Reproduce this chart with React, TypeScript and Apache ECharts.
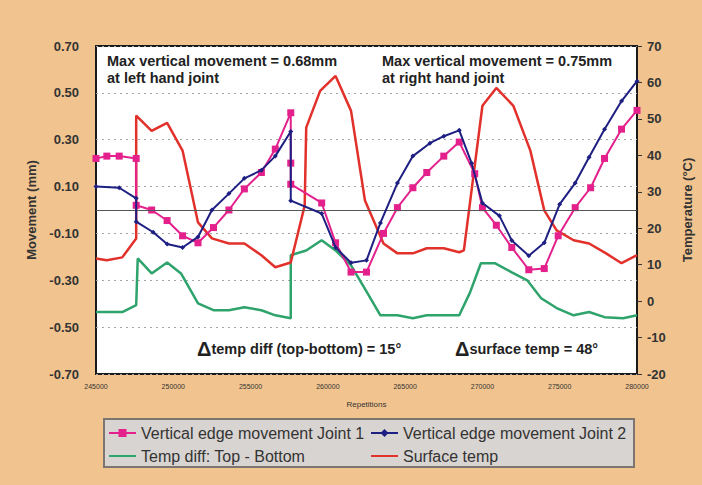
import React, { useEffect, useRef } from "react";
import * as echarts from "echarts";

const xMin = 245000;
const xMax = 280000;

const joint1X = [245000, 245700, 246500, 247600, 247600, 248600, 249600, 250600, 251600, 252600, 253600, 254600, 255700, 256600, 257600, 257600, 257600, 259600, 260500, 261500, 262500, 263600, 264500, 265500, 266400, 267500, 268500, 269500, 270000, 270900, 271900, 273000, 274000, 274900, 276000, 277000, 277900, 279000, 280000];
const joint1Y = [0.22, 0.23, 0.23, 0.22, 0.02, 0.0, -0.045, -0.11, -0.14, -0.075, 0.0, 0.09, 0.16, 0.26, 0.415, 0.2, 0.11, 0.03, -0.14, -0.265, -0.265, -0.1, 0.01, 0.095, 0.16, 0.23, 0.29, 0.155, 0.01, -0.065, -0.16, -0.255, -0.25, -0.11, 0.01, 0.095, 0.22, 0.345, 0.425];

const joint2X = [245000, 246500, 247600, 247600, 248700, 249600, 250600, 251600, 252500, 253600, 254600, 255700, 256600, 257600, 257600, 259600, 260500, 261500, 262500, 263400, 264500, 265500, 266600, 267500, 268500, 269300, 270000, 271100, 271900, 273000, 274000, 275000, 276000, 276900, 277900, 279000, 280000];
const joint2Y = [0.1, 0.095, 0.05, -0.05, -0.095, -0.145, -0.16, -0.115, 0.0, 0.07, 0.135, 0.17, 0.23, 0.335, 0.04, -0.015, -0.16, -0.225, -0.215, -0.055, 0.115, 0.23, 0.285, 0.315, 0.34, 0.2, 0.03, -0.025, -0.13, -0.195, -0.14, 0.025, 0.115, 0.225, 0.345, 0.465, 0.55];

const tempDiffX = [245000, 246700, 247600, 247700, 248600, 249600, 250500, 251600, 252600, 253600, 254600, 255700, 256600, 257600, 257600, 258600, 259600, 260500, 261500, 262600, 263400, 264500, 265500, 266400, 268500, 269200, 269900, 270800, 271900, 272900, 273800, 274800, 275900, 276900, 277900, 279100, 280000];
const tempDiffY = [-3.0, -3.0, -1.1, 11.7, 7.6, 10.6, 7.6, -0.6, -2.5, -2.5, -1.7, -2.5, -3.9, -4.7, 12.6, 13.9, 16.7, 13.9, 9.8, 1.9, -3.9, -3.9, -4.7, -3.9, -3.9, 2.4, 10.4, 10.4, 7.9, 5.7, 0.8, -1.9, -3.9, -3.0, -4.4, -4.7, -3.9];

const surfX = [245000, 245700, 246700, 247600, 247600, 248600, 249600, 250600, 251600, 252500, 253600, 254600, 255700, 256600, 257600, 258500, 258600, 259500, 260500, 261500, 262400, 263600, 264500, 265500, 266400, 267500, 268500, 268800, 270000, 270900, 272000, 273100, 274000, 274800, 275900, 276900, 278000, 279000, 280000];
const surfY = [11.7, 11.2, 12.0, 17.2, 50.9, 46.7, 48.9, 41.3, 21.6, 17.2, 15.8, 15.8, 12.6, 9.3, 10.6, 26.2, 47.6, 57.7, 61.8, 52.2, 27.6, 15.8, 13.1, 13.1, 14.5, 14.5, 13.4, 13.9, 53.6, 58.5, 53.6, 41.3, 24.9, 19.4, 16.7, 15.8, 13.1, 10.4, 12.6];

const seriesNames = [
  "Vertical edge movement Joint 1",
  "Vertical edge movement Joint 2",
  "Temp diff: Top - Bottom",
  "Surface temp",
];

const annotationLeft = ["Max vertical movement = 0.68mm", "at left hand joint"];
const annotationRight = ["Max vertical movement = 0.75mm", "at right hand joint"];
const deltaTempDiff = "temp diff (top-bottom) = 15°";
const deltaSurface = "surface temp = 48°";

const pair = (xs: number[], ys: number[]) => xs.map((x, i) => [x, ys[i]]);

const FONT = 'Arial, "Liberation Sans", sans-serif';

export default function App() {
  const ref = useRef<HTMLDivElement>(null);
  useEffect(() => {
    if (!ref.current) return;
    const chart = echarts.init(ref.current, undefined, { renderer: "svg" });
    const boldText = { fontFamily: FONT, fontWeight: "bold" as const, fontSize: 14.5, fill: "#222" };
    const deltaRich = {
      d: { fontFamily: FONT, fontSize: 20, fontWeight: "bold", fill: "#222", color: "#222" },
      t: { fontFamily: FONT, fontSize: 14.5, fontWeight: "bold", fill: "#222", color: "#222" },
    };
    chart.setOption({
      animation: false,
      backgroundColor: "#F1C38E",
      textStyle: { fontFamily: FONT },
      grid: {
        left: 96,
        right: 61,
        top: 46,
        bottom: 111,
        show: true,
        backgroundColor: "#ffffff",
        borderColor: "#1a1a1a",
        borderWidth: 2,
      },
      legend: {
        left: 108,
        top: 424,
        width: 540,
        padding: 0,
        itemWidth: 27,
        itemHeight: 10,
        itemGap: 5,
        data: [
          { name: seriesNames[0] },
          { name: seriesNames[1] },
          { name: seriesNames[2], itemStyle: { opacity: 0 } },
          { name: seriesNames[3], itemStyle: { opacity: 0 } },
        ],
        textStyle: { fontFamily: FONT, fontSize: 16, color: "#333", width: 224, lineHeight: 18 },
      },
      xAxis: {
        type: "value",
        min: xMin,
        max: xMax,
        interval: 5000,
        name: "Repetitions",
        nameLocation: "middle",
        nameGap: 26,
        nameTextStyle: { fontFamily: FONT, fontSize: 8, color: "#333" },
        axisLine: { show: false },
        axisTick: { show: false },
        splitLine: { show: false },
        axisLabel: { fontFamily: FONT, fontSize: 7, color: "#333", margin: 9, formatter: (v: number) => String(v) },
      },
      yAxis: [
        {
          type: "value",
          min: -0.7,
          max: 0.7,
          interval: 0.2,
          name: "Movement (mm)",
          nameLocation: "middle",
          nameRotate: 90,
          nameGap: 58,
          nameTextStyle: { fontFamily: FONT, fontSize: 13, fontWeight: "bold", color: "#333" },
          axisLine: { show: false },
          axisTick: { show: false },
          axisLabel: {
            fontFamily: FONT,
            fontSize: 13,
            fontWeight: "bold",
            color: "#333",
            margin: 17,
            formatter: (v: number) => v.toFixed(2),
          },
          splitLine: { show: true, lineStyle: { color: "#a5a5a5", type: [2, 4], width: 1 } },
        },
        {
          type: "value",
          min: -20,
          max: 70,
          interval: 10,
          name: "Temperature (°C)",
          nameLocation: "middle",
          nameRotate: 90,
          nameGap: 44,
          nameTextStyle: { fontFamily: FONT, fontSize: 13, fontWeight: "bold", color: "#333" },
          axisLine: { show: false },
          axisTick: { show: true, inside: false, length: 5, lineStyle: { color: "#333" } },
          axisLabel: { fontFamily: FONT, fontSize: 13, fontWeight: "bold", color: "#333", margin: 10 },
          splitLine: { show: false },
        },
      ],
      series: [
        {
          name: seriesNames[0],
          type: "line",
          yAxisIndex: 0,
          data: pair(joint1X, joint1Y),
          symbol: "rect",
          symbolSize: 7,
          lineStyle: { color: "#E3208C", width: 2 },
          itemStyle: { color: "#E3208C" },
          z: 4,
          markLine: {
            silent: true,
            symbol: "none",
            label: { show: false },
            lineStyle: { color: "#555", type: "solid", width: 1 },
            data: [{ yAxis: 0 }],
          },
        },
        {
          name: seriesNames[1],
          type: "line",
          yAxisIndex: 0,
          data: pair(joint2X, joint2Y),
          symbol: "diamond",
          symbolSize: 5,
          lineStyle: { color: "#1E1F82", width: 2 },
          itemStyle: { color: "#1E1F82" },
          z: 5,
        },
        {
          name: seriesNames[2],
          type: "line",
          yAxisIndex: 1,
          data: pair(tempDiffX, tempDiffY),
          showSymbol: false,
          symbol: "none",
          lineStyle: { color: "#2EA36B", width: 2.5 },
          itemStyle: { color: "#2EA36B" },
          z: 3,
        },
        {
          name: seriesNames[3],
          type: "line",
          yAxisIndex: 1,
          data: pair(surfX, surfY),
          showSymbol: false,
          symbol: "none",
          lineStyle: { color: "#E2302B", width: 2.5 },
          itemStyle: { color: "#E2302B" },
          z: 3,
        },
      ],
      graphic: [
        {
          type: "rect",
          z: -1,
          shape: { x: 104, y: 419, width: 530, height: 48 },
          style: { fill: "#D8D4D1", stroke: "#7d756f", lineWidth: 2 },
        },
        { type: "text", x: 107, y: 53, z: 10, style: { ...boldText, text: annotationLeft[0] } },
        { type: "text", x: 107, y: 70, z: 10, style: { ...boldText, text: annotationLeft[1] } },
        { type: "text", x: 382, y: 53, z: 10, style: { ...boldText, text: annotationRight[0] } },
        { type: "text", x: 382, y: 70, z: 10, style: { ...boldText, text: annotationRight[1] } },
        {
          type: "text",
          x: 197,
          y: 339,
          z: 10,
          style: { text: "{d|Δ}{t|" + deltaTempDiff + "}", rich: deltaRich },
        },
        {
          type: "text",
          x: 455,
          y: 339,
          z: 10,
          style: { text: "{d|Δ}{t|" + deltaSurface + "}", rich: deltaRich },
        },
      ],
    });
    return () => chart.dispose();
  }, []);
  return (
    <div
      ref={ref}
      style={{ position: "fixed", left: 0, top: 0, width: 702, height: 485 }}
    />
  );
}
